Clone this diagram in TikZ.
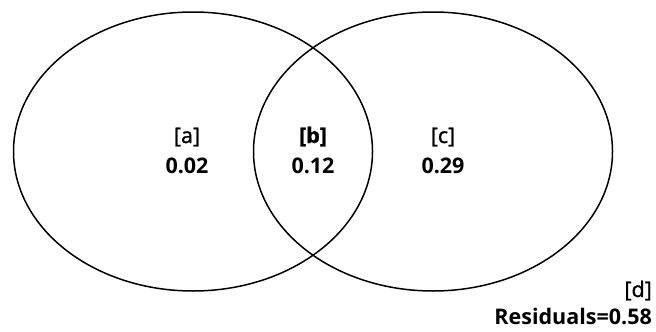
\documentclass[tikz,border=0pt]{standalone}
\usepackage{fontspec}
\setmainfont{Open Sans}
\newfontfamily\semifont{Open Sans}[FakeBold=1.2]
\usetikzlibrary{shapes.geometric,positioning}

\tikzset{
    set/.style={ellipse,draw,line width=1.5pt,minimum width=359pt,minimum height=279pt,inner sep=0pt},
    lab/.style={anchor=base,inner sep=0pt,font=\fontsize{21.5}{26}\semifont},
    val/.style={anchor=base,inner sep=0pt,font=\fontsize{21.5}{26}\selectfont\bfseries}
}

\begin{document}
\begin{tikzpicture}[x=1pt,y=-1pt]
    \useasboundingbox (0,0) rectangle (656,332);

    % Sets
    \node[set] (left) at (193,151.5) {};
    \node[set] (right) at (433,151.5) {};

    % Fractions
    \foreach \n/\xpos/\label/\value in {a/187/{[a]}/0.02,b/313/{\bfseries[b]}/0.12,c/443/{[c]}/0.29} {
        \node[lab] (l\n) at (\xpos,143) {\label};
        \node[val] (v\n) at (\xpos,173) {\value};
    }

    % Residuals
    \node[lab,anchor=base east] (ld) at (652,297) {[d]};
    \node[val,anchor=base east] (vd) at (652,324) {Residuals=0.58};
\end{tikzpicture}
\end{document}
